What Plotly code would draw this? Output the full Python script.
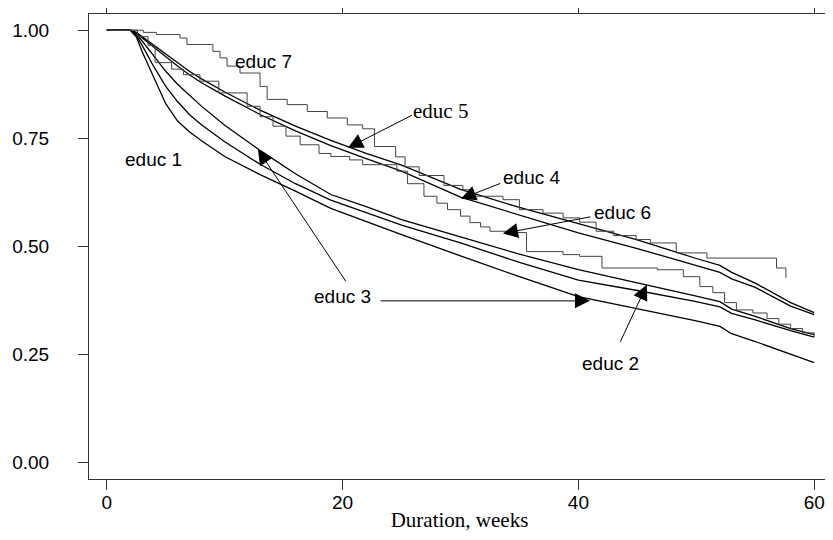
import plotly.graph_objects as go

# ---------------- data ----------------
weeks_smooth = [0, 2, 2.5, 3, 4, 5, 6, 7, 8, 10, 13, 16, 19, 22, 25, 30, 35, 40, 45, 50, 52, 53, 55, 58, 60]

educ_1 = [1, 1, 0.988, 0.965, 0.915, 0.87, 0.835, 0.805, 0.782, 0.742, 0.69, 0.645, 0.607, 0.578, 0.549,
          0.508, 0.463, 0.422, 0.398, 0.372, 0.36, 0.345, 0.33, 0.305, 0.29]
educ_2 = [1, 1, 0.99, 0.975, 0.94, 0.905, 0.875, 0.85, 0.825, 0.78, 0.722, 0.668, 0.62, 0.592, 0.562,
          0.522, 0.482, 0.446, 0.416, 0.385, 0.372, 0.355, 0.338, 0.31, 0.296]
educ_3 = [1, 1, 0.985, 0.95, 0.89, 0.83, 0.79, 0.765, 0.745, 0.708, 0.666, 0.628, 0.588, 0.557, 0.527,
          0.478, 0.43, 0.384, 0.356, 0.328, 0.315, 0.298, 0.28, 0.25, 0.231]
educ_4 = [1, 1, 0.993, 0.982, 0.96, 0.938, 0.917, 0.897, 0.879, 0.848, 0.805, 0.767, 0.733, 0.703, 0.674,
          0.614, 0.572, 0.531, 0.495, 0.455, 0.44, 0.425, 0.405, 0.362, 0.342]
educ_5 = [1, 1, 0.995, 0.985, 0.965, 0.945, 0.925, 0.905, 0.888, 0.857, 0.815, 0.778, 0.745, 0.715, 0.688,
          0.632, 0.59, 0.552, 0.515, 0.472, 0.456, 0.44, 0.415, 0.37, 0.347]

weeks_6 = [0, 2.0, 2.6, 3.5, 4.1, 5.5, 6.5, 7.9, 9.5, 11.9, 13.0, 14.1, 15.2, 16.4, 18.0, 19.0, 20.6, 21.7,
           24.6, 25.5, 26.9, 28.0, 28.9, 30.0, 30.8, 31.7, 32.5, 34.2, 35.6, 38.7, 40.1, 42.0, 46.7, 48.9,
           50.3, 51.4, 52.4, 53.4, 54.8, 56, 57, 58, 59, 60]
educ_6 = [1, 1, 0.985, 0.965, 0.925, 0.91, 0.897, 0.882, 0.855, 0.824, 0.80, 0.778, 0.755, 0.735, 0.715,
          0.708, 0.70, 0.689, 0.674, 0.645, 0.616, 0.60, 0.585, 0.57, 0.555, 0.545, 0.535, 0.532, 0.488,
          0.481, 0.477, 0.45, 0.446, 0.43, 0.407, 0.393, 0.37, 0.353, 0.346, 0.333, 0.32, 0.31, 0.30, 0.29]

weeks_7 = [0, 3.1, 4.2, 6.2, 6.8, 9.0, 9.6, 10.2, 11.3, 13.0, 13.6, 15.3, 17.0, 18.7, 20.4, 21.7, 22.7,
           24.5, 25.3, 26.5, 28.6, 30.2, 31.1, 33.6, 35.0, 37.0, 38.7, 40.1, 41.5, 43.0, 44.9, 46.1, 48.3,
           50.9, 56.8, 57.6]
educ_7 = [1.0, 0.995, 0.99, 0.982, 0.967, 0.951, 0.936, 0.917, 0.901, 0.87, 0.84, 0.828, 0.812, 0.797,
          0.781, 0.772, 0.731, 0.707, 0.684, 0.664, 0.641, 0.631, 0.616, 0.608, 0.585, 0.577, 0.566, 0.556,
          0.535, 0.525, 0.516, 0.508, 0.485, 0.473, 0.45, 0.427]

x_ticks = [0, 20, 40, 60]
y_ticks = [0, 0.25, 0.5, 0.75, 1.0]
y_tick_labels = ["0.00", "0.25", "0.50", "0.75", "1.00"]

# labels: (text, x, y, serif)
labels = [
    ("educ 7", 13.33, 0.928, False),
    ("educ 1", 3.92, 0.700, False),
    ("educ 5", 28.3, 0.8125, True),
    ("educ 4", 36.06, 0.659, False),
    ("educ 6", 43.7, 0.579, False),
    ("educ 2", 42.7, 0.228, False),
    ("educ 3", 20.03, 0.384, False),
]
# arrows: (tail_x, tail_y, tip_x, tip_y)
arrows = [
    (26.0, 0.805, 20.46, 0.728),
    (33.5, 0.647, 30.04, 0.61),
    (41.15, 0.569, 33.6, 0.53),
    (43.5, 0.276, 45.8, 0.411),
    (23.1, 0.374, 40.98, 0.374),
    (20.35, 0.416, 12.82, 0.724),
]

# ---------------- figure ----------------
fig = go.Figure()
for name, ys in [("educ 1", educ_1), ("educ 2", educ_2), ("educ 3", educ_3),
                 ("educ 4", educ_4), ("educ 5", educ_5)]:
    fig.add_trace(go.Scatter(x=weeks_smooth, y=ys, mode="lines", name=name,
                             line=dict(color="black", width=1.3)))
fig.add_trace(go.Scatter(x=weeks_6, y=educ_6, mode="lines", name="educ 6",
                         line=dict(color="#444444", width=1, shape="hv")))
fig.add_trace(go.Scatter(x=weeks_7, y=educ_7, mode="lines", name="educ 7",
                         line=dict(color="#444444", width=1, shape="hv")))

sans = "Liberation Sans, Arial, sans-serif"
serif = "Liberation Serif, Times New Roman, serif"

for text, x, y, is_serif in labels:
    fig.add_annotation(x=x, y=y, text=text, showarrow=False,
                       font=dict(family=serif if is_serif else sans,
                                 size=21 if is_serif else 19, color="black"))
for tx, ty, hx, hy in arrows:
    fig.add_annotation(x=hx, y=hy, ax=tx, ay=ty, axref="x", ayref="y", text="",
                       showarrow=True, arrowhead=2, arrowsize=3, arrowwidth=1,
                       arrowcolor="black", standoff=0)

axis_common = dict(ticks="outside", ticklen=10, tickcolor="#333333", tickwidth=1,
                   showline=True, linecolor="#333333", linewidth=1, mirror="allticks",
                   showgrid=False, zeroline=False, automargin=False,
                   tickfont=dict(family=sans, size=19, color="black"))

fig.update_xaxes(range=[-1.51, 61.34], tickvals=x_ticks, ticklabelstandoff=-4, **axis_common,
                 title=dict(text="Duration, weeks",
                            font=dict(family=serif, size=21, color="black"), standoff=0))
fig.update_yaxes(range=[-0.038, 1.0375], tickvals=y_ticks, ticktext=y_tick_labels,
                 ticklabelstandoff=25, **axis_common)

# page body adds an 8px offset; margins compensate so the plot sits where the reference's does
fig.update_layout(width=833, height=540, margin=dict(l=81, r=11, t=6, b=69),
                  plot_bgcolor="white", paper_bgcolor="white", showlegend=False)

fig.write_html("out.html")
